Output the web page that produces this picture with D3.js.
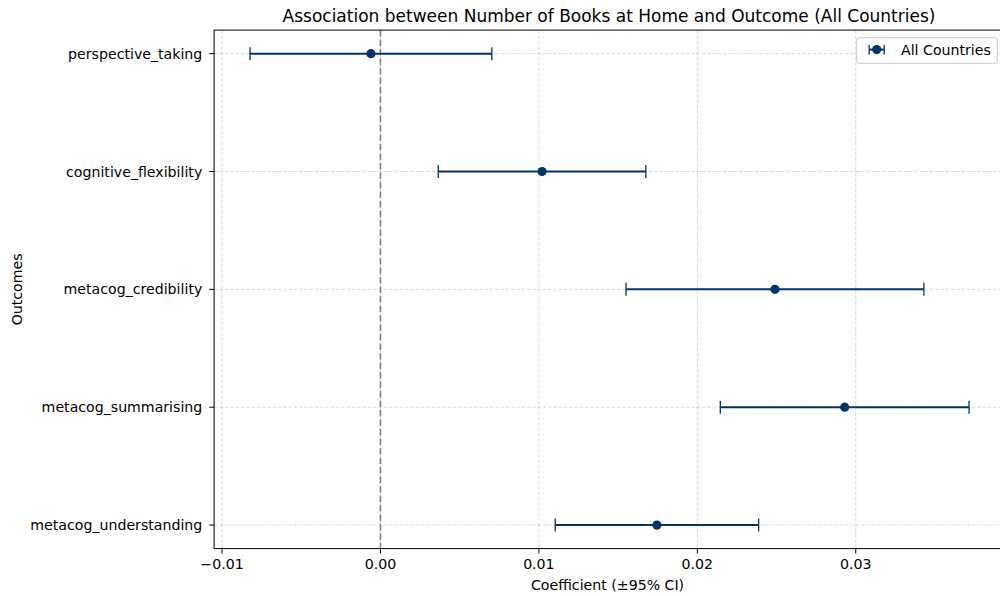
<!DOCTYPE html>
<html>
<head>
<meta charset="utf-8">
<script src="https://cdn.jsdelivr.net/npm/d3@7"></script>
<style>
  html, body { margin: 0; padding: 0; background: #fff; }
  svg { display: block; font-family: "DejaVu Sans", sans-serif; }
</style>
</head>
<body>
<svg id="chart" width="1000" height="596"></svg>
<script>
// ---- data (top to bottom) ----
const outcomes = ["perspective_taking", "cognitive_flexibility", "metacog_credibility", "metacog_summarising", "metacog_understanding"];
const coefficients = [-0.0006, 0.0102, 0.0249, 0.0293, 0.01745];
const ciHalfWidth = [0.00763, 0.00655, 0.0094, 0.00785, 0.00642];
const xTicks = [-0.01, 0.00, 0.01, 0.02, 0.03];
const xTickLabels = ["\u22120.01", "0.00", "0.01", "0.02", "0.03"];
const seriesName = "All Countries";
const titleText = "Association between Number of Books at Home and Outcome (All Countries)";
const xLabel = "Coefficient (\u00B195% CI)";
const yLabel = "Outcomes";

const color = "#003366";
const FS = 14.15;
const margin = { left: 214.1, top: 30.1, right: 1005, bottom: 548.6 };

const svg = d3.select("#chart");

const lows = coefficients.map((c, i) => c - ciHalfWidth[i]);
const highs = coefficients.map((c, i) => c + ciHalfWidth[i]);
const dmin = d3.min(lows), dmax = d3.max(highs);
const pad = (dmax - dmin) * 0.05;

const x = d3.scaleLinear().domain([dmin - pad, dmax + pad]).range([margin.left, margin.right]);
const y = d3.scalePoint().domain(outcomes).range([margin.top, margin.bottom]).padding(0.2);

svg.append("defs").append("clipPath").attr("id", "plotclip")
  .append("rect").attr("x", margin.left).attr("y", margin.top)
  .attr("width", margin.right - margin.left).attr("height", margin.bottom - margin.top);

const plot = svg.append("g").attr("clip-path", "url(#plotclip)");

// grid
plot.selectAll("line.vgrid").data(xTicks).enter().append("line")
  .attr("x1", d => x(d)).attr("x2", d => x(d))
  .attr("y1", margin.top).attr("y2", margin.bottom)
  .attr("stroke", "#b0b0b0").attr("stroke-opacity", 0.5)
  .attr("stroke-width", 0.9).attr("stroke-dasharray", "3.7,1.6");
plot.selectAll("line.hgrid").data(outcomes).enter().append("line")
  .attr("x1", margin.left).attr("x2", margin.right)
  .attr("y1", d => y(d)).attr("y2", d => y(d))
  .attr("stroke", "#b0b0b0").attr("stroke-opacity", 0.5)
  .attr("stroke-width", 0.9).attr("stroke-dasharray", "3.7,1.6");

// zero line
plot.append("line")
  .attr("x1", x(0)).attr("x2", x(0))
  .attr("y1", margin.top).attr("y2", margin.bottom)
  .attr("stroke", "#808080").attr("stroke-width", 1.6)
  .attr("stroke-dasharray", "6.5,3");

// error bars
const rows = outcomes.map((o, i) => ({ o, c: coefficients[i], lo: lows[i], hi: highs[i] }));
const eb = plot.selectAll("g.eb").data(rows).enter().append("g");
eb.append("line")
  .attr("x1", d => x(d.lo)).attr("x2", d => x(d.hi))
  .attr("y1", d => y(d.o)).attr("y2", d => y(d.o))
  .attr("stroke", color).attr("stroke-width", 2);
eb.append("line")
  .attr("x1", d => x(d.lo)).attr("x2", d => x(d.lo))
  .attr("y1", d => y(d.o) - 6.5).attr("y2", d => y(d.o) + 6.5)
  .attr("stroke", color).attr("stroke-width", 1.3);
eb.append("line")
  .attr("x1", d => x(d.hi)).attr("x2", d => x(d.hi))
  .attr("y1", d => y(d.o) - 6.5).attr("y2", d => y(d.o) + 6.5)
  .attr("stroke", color).attr("stroke-width", 1.3);
eb.append("circle")
  .attr("cx", d => x(d.c)).attr("cy", d => y(d.o)).attr("r", 4.6)
  .attr("fill", color);

// spines
svg.append("rect").attr("x", margin.left).attr("y", margin.top)
  .attr("width", margin.right - margin.left).attr("height", margin.bottom - margin.top)
  .attr("stroke", "#000").attr("stroke-width", 1).attr("fill", "none");

// x axis ticks
const xt = svg.append("g");
xTicks.forEach((t, i) => {
  xt.append("line").attr("x1", x(t)).attr("x2", x(t))
    .attr("y1", margin.bottom).attr("y2", margin.bottom + 4.9)
    .attr("stroke", "#000").attr("stroke-width", 1);
  xt.append("text").attr("x", x(t)).attr("y", margin.bottom + 20)
    .attr("text-anchor", "middle").attr("font-size", FS).attr("fill", "#000")
    .text(xTickLabels[i]);
});

// y axis ticks
const yt = svg.append("g");
outcomes.forEach(o => {
  yt.append("line").attr("x1", margin.left - 4.9).attr("x2", margin.left)
    .attr("y1", y(o)).attr("y2", y(o))
    .attr("stroke", "#000").attr("stroke-width", 1);
  yt.append("text").attr("x", margin.left - 11.8).attr("y", y(o))
    .attr("dy", "0.36em")
    .attr("text-anchor", "end").attr("font-size", FS).attr("fill", "#000")
    .text(o);
});

// labels
svg.append("text").attr("x", (margin.left + margin.right) / 2 - 2).attr("y", 589.5)
  .attr("text-anchor", "middle").attr("font-size", FS).text(xLabel);
svg.append("text").attr("transform", `translate(22,${(margin.top + margin.bottom) / 2}) rotate(-90)`)
  .attr("text-anchor", "middle").attr("font-size", FS).text(yLabel);
svg.append("text").attr("x", 609).attr("y", 21.5)
  .attr("text-anchor", "middle").attr("font-size", 17.0).text(titleText);

// legend
const lg = svg.append("g");
lg.append("rect").attr("x", 856.7).attr("y", 37.7).attr("width", 140.6).attr("height", 25.6)
  .attr("rx", 2.5).attr("fill", "#fff").attr("fill-opacity", 0.8)
  .attr("stroke", "#cccccc").attr("stroke-width", 1);
const lx = 876.7, ly = 49.6;
lg.append("line").attr("x1", lx - 7.5).attr("x2", lx + 7.5).attr("y1", ly).attr("y2", ly)
  .attr("stroke", color).attr("stroke-width", 2);
[lx - 7.5, lx + 7.5].forEach(cx => lg.append("line").attr("x1", cx).attr("x2", cx)
  .attr("y1", ly - 4.8).attr("y2", ly + 4.8).attr("stroke", color).attr("stroke-width", 1.3));
lg.append("circle").attr("cx", lx).attr("cy", ly).attr("r", 4.6).attr("fill", color);
lg.append("text").attr("x", 901).attr("y", ly).attr("dy", "0.36em")
  .attr("font-size", FS).text(seriesName);
</script>
</body>
</html>
